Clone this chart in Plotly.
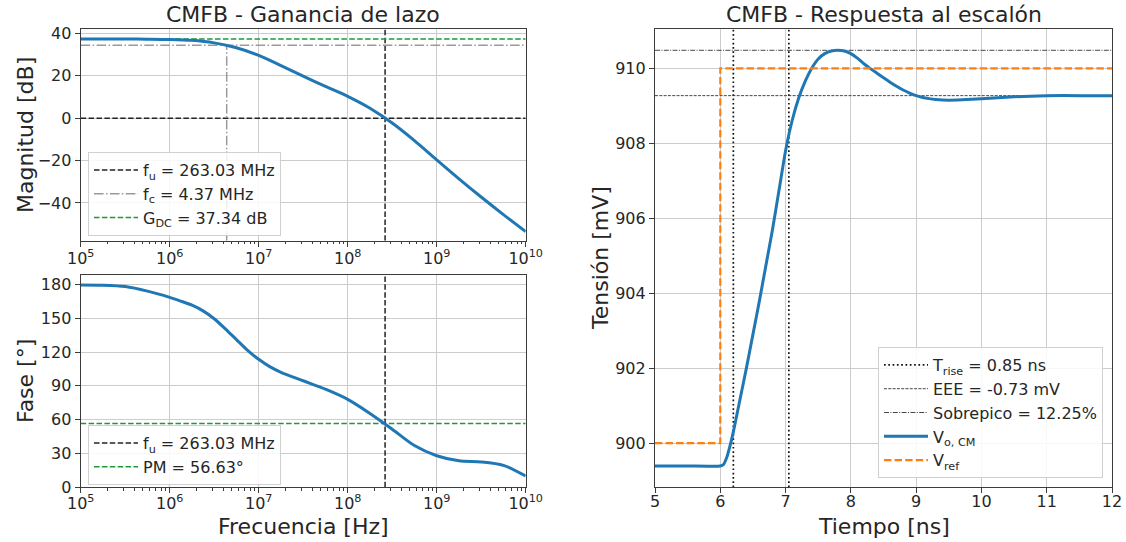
import plotly.graph_objects as go

# ---------------- data ----------------
# Loop gain magnitude (Bode), quarter-decade readings
mag_freq_hz = [1e5, 1.78e5, 3.16e5, 5.62e5, 1e6, 1.78e6, 3.16e6, 5.62e6, 1e7, 1.78e7, 3.16e7,
               5.62e7, 1e8, 1.78e8, 3.16e8, 5.62e8, 1e9, 1.78e9, 3.16e9, 5.62e9, 1e10]
mag_db = [37.34, 37.33, 37.31, 37.25, 37.12, 36.7, 35.5, 33.2, 29.6, 24.8, 19.8,
          15.0, 10.3, 4.7, -2.3, -10.6, -19.7, -28.6, -37.2, -45.5, -53.5]

# Loop gain phase
phase_freq_hz = [1e5, 1.78e5, 3.16e5, 5.62e5, 1e6, 1.33e6, 1.78e6, 2.37e6, 3.16e6, 4.22e6,
                 5.62e6, 7.5e6, 1e7, 1.33e7, 1.78e7, 3.16e7, 5.62e7, 1e8, 1.78e8, 3.16e8,
                 5.62e8, 1e9, 1.78e9, 3.16e9, 5.62e9, 1e10]
phase_deg = [179.4, 179.2, 178.0, 174.0, 168.5, 165.2, 161.5, 156.5, 149.5, 140.5,
             131.0, 121.5, 113.5, 107.0, 102.0, 94.5, 87.0, 78.0, 65.5, 51.5,
             37.0, 28.0, 23.5, 22.5, 19.5, 10.0]

# Characteristic values
f_u_hz = 2.6303e8
f_c_hz = 4.37e6
g_dc_db = 37.34
g_c_db = 34.34
pm_deg = 56.63

# Step response
t_ns = [5.0, 5.5, 6.0, 6.05, 6.1, 6.15, 6.2, 6.3, 6.4, 6.5, 6.6, 6.7, 6.8, 6.9, 7.0,
        7.1, 7.2, 7.3, 7.4, 7.5, 7.6, 7.7, 7.8, 7.9, 8.0, 8.1, 8.2, 8.3, 8.4, 8.5,
        8.6, 8.7, 8.8, 8.9, 9.0, 9.1, 9.2, 9.3, 9.5, 9.7, 10.0, 10.5, 11.0, 11.5, 12.0]
v_out_mv = [899.39, 899.39, 899.39, 899.43, 899.62, 899.93, 900.3, 901.15, 902.0, 902.9, 903.8,
            904.75, 905.7, 906.75, 907.8, 908.6, 909.2, 909.65, 910.0, 910.25, 910.39, 910.46,
            910.48, 910.46, 910.39, 910.27, 910.12, 909.99, 909.87, 909.75, 909.63, 909.52,
            909.42, 909.34, 909.27, 909.22, 909.19, 909.17, 909.15, 909.16, 909.19, 909.24,
            909.27, 909.27, 909.27]
t_ref_ns = [5.0, 6.0, 6.0, 12.0]
v_ref_mv = [900.0, 900.0, 910.0, 910.0]
t_rise_ns = [6.2, 7.05]
v_settle_mv = 909.27
v_peak_mv = 910.48

# Axis limits
mag_range = [-57.8, 41.9]
phase_range = [0, 188.3]
step_range = [898.82, 911.04]
t_range = [5, 12]
logf_range = [5, 10]

# ---------------- styling ----------------
FONT = "DejaVu Sans"
TXT = "#262626"
AXC = "#3c3c3c"
GRID = "#cccccc"
BLUE = "#1f77b4"
ORANGE = "#ff7f0e"
GREEN = "#1a9a3a"
GRAY = "#9a9a9a"

W, H = 1126, 542
dash_k = "5.5px,2.4px"
dashdot = "9.6px,2.4px,1.5px,2.4px"
f_lo, f_hi = 10 ** logf_range[0], 10 ** logf_range[1]

fig = go.Figure()

# ---- top: magnitude ----
fig.add_trace(go.Scatter(
    x=[f_u_hz, f_u_hz, None, f_lo, f_hi],
    y=[mag_range[0], mag_range[1], None, 0, 0],
    mode="lines", line=dict(color="#222222", width=1.5, dash=dash_k),
    name="f<sub>u</sub> = 263.03 MHz", xaxis="x", yaxis="y", legend="legend"))
fig.add_trace(go.Scatter(
    x=[f_c_hz, f_c_hz, None, f_lo, f_hi],
    y=[mag_range[0], g_c_db, None, g_c_db, g_c_db],
    mode="lines", line=dict(color=GRAY, width=1.5, dash=dashdot),
    name="f<sub>c</sub> = 4.37 MHz", xaxis="x", yaxis="y", legend="legend"))
fig.add_trace(go.Scatter(
    x=[f_lo, f_hi], y=[g_dc_db, g_dc_db],
    mode="lines", line=dict(color=GREEN, width=1.5, dash=dash_k),
    name="G<sub>DC</sub> = 37.34 dB", xaxis="x", yaxis="y", legend="legend"))
fig.add_trace(go.Scatter(
    x=mag_freq_hz, y=mag_db, mode="lines",
    line=dict(color=BLUE, width=3, shape="spline", smoothing=0.8),
    showlegend=False, xaxis="x", yaxis="y"))

# ---- bottom: phase ----
fig.add_trace(go.Scatter(
    x=[f_u_hz, f_u_hz], y=[phase_range[0], phase_range[1]],
    mode="lines", line=dict(color="#222222", width=1.5, dash=dash_k),
    name="f<sub>u</sub> = 263.03 MHz", xaxis="x2", yaxis="y2", legend="legend2"))
fig.add_trace(go.Scatter(
    x=[f_lo, f_hi], y=[pm_deg, pm_deg],
    mode="lines", line=dict(color=GREEN, width=1.5, dash=dash_k),
    name="PM = 56.63°", xaxis="x2", yaxis="y2", legend="legend2"))
fig.add_trace(go.Scatter(
    x=phase_freq_hz, y=phase_deg, mode="lines",
    line=dict(color=BLUE, width=3, shape="spline", smoothing=0.8),
    showlegend=False, xaxis="x2", yaxis="y2"))

# ---- right: step response ----
fig.add_trace(go.Scatter(
    x=[t_rise_ns[0], t_rise_ns[0], None, t_rise_ns[1], t_rise_ns[1]],
    y=[step_range[0], step_range[1], None, step_range[0], step_range[1]],
    mode="lines", line=dict(color="#111111", width=1.7, dash="1.7px,2.6px"),
    name="T<sub>rise</sub> = 0.85 ns", xaxis="x3", yaxis="y3", legend="legend3"))
fig.add_trace(go.Scatter(
    x=t_range, y=[v_settle_mv, v_settle_mv],
    mode="lines", line=dict(color="#333333", width=0.9, dash="3px,1.3px"),
    name="EEE = -0.73 mV", xaxis="x3", yaxis="y3", legend="legend3"))
fig.add_trace(go.Scatter(
    x=t_range, y=[v_peak_mv, v_peak_mv],
    mode="lines", line=dict(color="#333333", width=0.9, dash="5px,1.4px,1px,1.4px"),
    name="Sobrepico = 12.25%", xaxis="x3", yaxis="y3", legend="legend3"))
fig.add_trace(go.Scatter(
    x=t_ns, y=v_out_mv, mode="lines",
    line=dict(color=BLUE, width=3, shape="spline", smoothing=0.5),
    name="V<sub>o, CM</sub>", xaxis="x3", yaxis="y3", legend="legend3"))
fig.add_trace(go.Scatter(
    x=t_ref_ns, y=v_ref_mv, mode="lines",
    line=dict(color=ORANGE, width=2.2, dash="7.4px,3.2px"),
    name="V<sub>ref</sub>", xaxis="x3", yaxis="y3", legend="legend3"))

# ---------------- axes ----------------
def axis_common():
    return dict(showline=True, linecolor=AXC, linewidth=1.2, mirror=True,
                ticks="outside", ticklen=5, tickwidth=1.1, tickcolor=AXC,
                showgrid=True, gridcolor=GRID, gridwidth=1, zeroline=False,
                automargin=False,
                tickfont=dict(family=FONT, size=16, color=TXT))

log_vals = [10 ** e for e in range(5, 11)]
log_text = ["10<sup>%d</sup>" % e for e in range(5, 11)]

def log_axis(domain, anchor, standoff=0):
    d = axis_common()
    d.update(type="log", range=logf_range, domain=domain, anchor=anchor,
             tickvals=log_vals, ticktext=log_text, ticklabelstandoff=standoff,
             minor=dict(ticks="outside", ticklen=2.5, tickcolor=AXC, dtick="D1", showgrid=False))
    return d

xl = [80.7 / W, 525.7 / W]
xr = [655 / W, 1112 / W]
y_top = [1 - 240.7 / H, 1 - 29.3 / H]
y_bot = [1 - 487.3 / H, 1 - 275 / H]
y_right = [1 - 487.3 / H, 1 - 29.3 / H]

ya = axis_common(); ya.update(range=mag_range, domain=y_top, anchor="x", tickvals=[-40, -20, 0, 20, 40])
ya2 = axis_common(); ya2.update(range=phase_range, domain=y_bot, anchor="x2", tickvals=[0, 30, 60, 90, 120, 150, 180])
ya3 = axis_common(); ya3.update(range=step_range, domain=y_right, anchor="x3", tickvals=[900, 902, 904, 906, 908, 910])
xa3 = axis_common(); xa3.update(range=t_range, domain=xr, anchor="y3", tickvals=list(range(5, 13)),
                                ticklabelstandoff=-6)

legend_style = dict(bgcolor="rgba(255,255,255,0.85)", bordercolor="#d0d0d0", borderwidth=1,
                    font=dict(family=FONT, size=16, color=TXT), tracegroupgap=0, itemwidth=44)

fig.update_layout(
    width=W, height=H, margin=dict(l=0, r=0, t=0, b=0, autoexpand=False),
    paper_bgcolor="white", plot_bgcolor="white",
    font=dict(family=FONT, color=TXT),
    xaxis=log_axis(xl, "y", -2), yaxis=ya,
    xaxis2=log_axis(xl, "y2", -4), yaxis2=ya2,
    xaxis3=xa3, yaxis3=ya3,
    legend=dict(x=88 / W, y=1 - 152 / H, xanchor="left", yanchor="top", **legend_style),
    legend2=dict(x=88 / W, y=1 - 425 / H, xanchor="left", yanchor="top", **legend_style),
    legend3=dict(x=1103 / W, y=1 - 478 / H, xanchor="right", yanchor="bottom", **legend_style),
)

def ann(text, x, y, size, angle=0):
    fig.add_annotation(text=text, x=x / W, y=1 - y / H, xref="paper", yref="paper",
                       showarrow=False, textangle=angle, xanchor="center", yanchor="middle",
                       font=dict(family=FONT, size=size, color=TXT))

ann("CMFB - Ganancia de lazo", 303, 15, 22)
ann("CMFB - Respuesta al escalón", 883.5, 15, 22)
ann("Magnitud [dB]", 25, 135, 22, -90)
ann("Fase [°]", 25, 381, 22, -90)
ann("Frecuencia [Hz]", 303, 526, 22)
ann("Tensión [mV]", 600, 258, 22, -90)
ann("Tiempo [ns]", 883.5, 526, 22)

fig.write_html("out.html")
